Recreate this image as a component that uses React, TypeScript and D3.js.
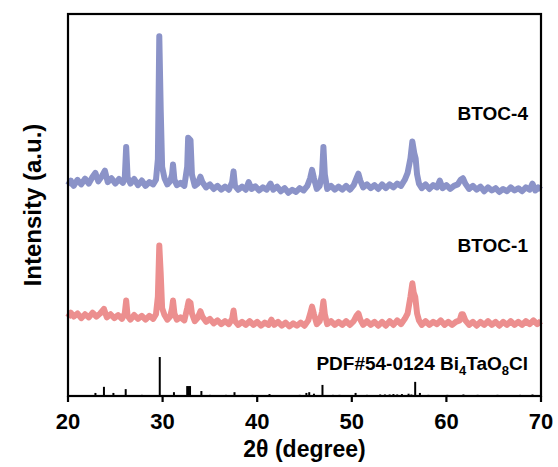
import * as d3 from "d3";

// 2θ (deg), intensity (a.u., offset stacked)
const btoc4: [number, number][] = [
  [20.0, 55.2], [20.3, 56.4], [20.6, 55.0], [21.0, 56.6], [21.4, 55.4], [21.8, 56.9], [22.2, 55.6], [22.6, 57.4],
  [22.9, 58.4], [23.2, 56.2], [23.6, 57.6], [23.9, 59.0], [24.2, 56.0], [24.6, 57.0], [25.0, 55.6], [25.4, 56.8],
  [25.8, 55.8], [26.0, 57.0], [26.15, 65.2], [26.3, 57.2], [26.6, 55.6], [27.0, 56.8], [27.4, 55.2], [27.8, 56.4],
  [28.2, 55.0], [28.6, 56.0], [29.0, 55.4], [29.3, 56.6], [29.5, 62.0], [29.65, 94.2], [29.8, 75.0], [29.95, 60.0],
  [30.2, 57.0], [30.5, 55.4], [30.8, 56.2], [31.0, 58.0], [31.1, 60.6], [31.25, 56.6], [31.5, 55.2], [31.9, 55.8],
  [32.3, 55.0], [32.6, 60.0], [32.7, 67.6], [32.95, 67.0], [33.1, 58.0], [33.4, 55.0], [33.7, 55.6], [34.0, 57.4],
  [34.2, 56.0], [34.6, 54.6], [35.0, 55.4], [35.4, 54.2], [35.8, 55.0], [36.2, 54.0], [36.6, 54.8], [37.0, 54.0],
  [37.35, 56.0], [37.5, 58.8], [37.65, 55.0], [38.0, 54.0], [38.4, 54.8], [38.8, 54.0], [39.1, 56.0], [39.4, 54.2],
  [39.8, 54.9], [40.2, 53.8], [40.6, 54.6], [41.0, 54.0], [41.4, 55.6], [41.7, 54.0], [42.1, 54.8], [42.5, 53.6],
  [42.9, 54.4], [43.3, 53.2], [43.7, 54.0], [44.1, 53.4], [44.5, 54.4], [44.9, 53.8], [45.3, 55.0], [45.6, 57.0],
  [45.8, 59.2], [46.0, 57.0], [46.3, 54.2], [46.6, 55.0], [46.85, 58.0], [47.0, 65.2], [47.15, 58.0], [47.4, 54.2],
  [47.8, 55.0], [48.2, 54.0], [48.6, 54.8], [49.0, 54.0], [49.4, 55.0], [49.8, 54.0], [50.2, 55.2], [50.5, 57.0],
  [50.7, 58.2], [50.9, 56.4], [51.2, 54.6], [51.6, 55.4], [52.0, 54.4], [52.4, 55.2], [52.8, 54.2], [53.2, 55.4],
  [53.6, 54.4], [54.0, 55.4], [54.4, 54.6], [54.8, 55.6], [55.2, 55.0], [55.6, 56.6], [55.9, 58.4], [56.2, 62.2],
  [56.4, 66.6], [56.6, 63.6], [56.75, 62.2], [56.9, 58.0], [57.1, 55.6], [57.4, 54.4], [57.8, 55.4], [58.2, 54.2],
  [58.6, 55.2], [59.0, 54.6], [59.3, 56.4], [59.6, 54.4], [60.0, 55.2], [60.4, 54.2], [60.8, 55.0], [61.2, 55.4],
  [61.5, 56.6], [61.75, 57.0], [62.0, 55.6], [62.4, 54.2], [62.8, 55.0], [63.2, 54.0], [63.6, 54.8], [64.0, 53.6],
  [64.4, 54.6], [64.8, 53.8], [65.2, 54.4], [65.6, 53.4], [66.0, 54.2], [66.4, 53.6], [66.8, 54.6], [67.2, 53.8],
  [67.6, 54.4], [68.0, 53.6], [68.4, 54.6], [68.8, 54.0], [69.1, 55.6], [69.4, 53.8], [69.7, 54.6], [70.0, 54.0],
];

const btoc1: [number, number][] = [
  [20.0, 20.6], [20.3, 21.8], [20.6, 20.8], [21.0, 21.6], [21.4, 20.4], [21.8, 21.4], [22.2, 20.6], [22.6, 21.8],
  [23.0, 20.8], [23.4, 21.6], [23.8, 22.8], [24.1, 20.6], [24.5, 21.4], [24.9, 20.4], [25.3, 21.2], [25.7, 20.2],
  [26.0, 21.6], [26.15, 25.0], [26.3, 21.0], [26.6, 20.0], [27.0, 21.2], [27.4, 20.2], [27.8, 21.0], [28.2, 20.0],
  [28.6, 21.0], [29.0, 20.2], [29.3, 21.4], [29.5, 26.0], [29.65, 39.4], [29.8, 32.0], [29.95, 23.0], [30.2, 21.2],
  [30.5, 20.0], [30.8, 20.8], [31.0, 23.0], [31.1, 25.0], [31.25, 21.6], [31.5, 20.0], [31.9, 20.6], [32.3, 19.8],
  [32.6, 23.0], [32.75, 24.8], [32.95, 24.4], [33.1, 21.6], [33.4, 19.6], [33.7, 20.4], [34.0, 22.2], [34.2, 20.8],
  [34.6, 19.4], [35.0, 20.2], [35.4, 19.0], [35.8, 19.8], [36.2, 18.8], [36.6, 19.6], [37.0, 18.8], [37.35, 20.2],
  [37.5, 22.4], [37.65, 19.6], [38.0, 18.6], [38.4, 19.4], [38.8, 18.6], [39.2, 19.6], [39.6, 18.6], [40.0, 19.4],
  [40.4, 18.4], [40.8, 19.2], [41.2, 18.6], [41.5, 20.0], [41.8, 18.6], [42.2, 19.4], [42.6, 18.4], [43.0, 19.2],
  [43.4, 18.2], [43.8, 19.0], [44.2, 18.4], [44.6, 19.2], [45.0, 18.4], [45.4, 19.8], [45.65, 22.0], [45.8, 23.4],
  [46.0, 21.4], [46.3, 18.8], [46.6, 19.6], [46.85, 22.0], [47.0, 24.8], [47.15, 21.4], [47.4, 18.8], [47.8, 19.6],
  [48.2, 18.6], [48.6, 19.4], [49.0, 18.6], [49.4, 19.6], [49.8, 18.6], [50.2, 19.6], [50.5, 21.0], [50.7, 21.6],
  [50.9, 20.0], [51.2, 18.6], [51.6, 19.6], [52.0, 18.6], [52.4, 19.4], [52.8, 18.4], [53.2, 19.4], [53.6, 18.4],
  [54.0, 19.6], [54.4, 18.6], [54.8, 19.8], [55.2, 18.8], [55.6, 20.2], [55.9, 21.6], [56.2, 26.0], [56.4, 29.5],
  [56.55, 27.0], [56.7, 26.0], [56.9, 21.6], [57.1, 19.8], [57.4, 18.6], [57.8, 19.6], [58.2, 18.6], [58.6, 19.4],
  [59.0, 18.8], [59.4, 19.8], [59.8, 18.6], [60.2, 19.4], [60.6, 18.6], [61.0, 19.4], [61.4, 19.8], [61.6, 21.4],
  [61.75, 21.4], [62.0, 19.8], [62.4, 18.6], [62.8, 19.4], [63.2, 18.4], [63.6, 19.4], [64.0, 18.6], [64.4, 19.6],
  [64.8, 18.6], [65.2, 19.4], [65.6, 18.4], [66.0, 19.4], [66.4, 18.6], [66.8, 19.6], [67.2, 18.6], [67.6, 19.4],
  [68.0, 18.6], [68.4, 19.6], [68.8, 18.8], [69.2, 19.8], [69.6, 18.8], [70.0, 19.6],
];

// standard card PDF#54-0124 sticks: [2θ, relative height]
const pdfPeaks: [number, number][] = [
  [22.9, 0.8], [23.8, 2.4], [24.8, 0.8], [26.1, 1.8], [27.8, 0.3], [29.7, 10.2], [31.2, 1.0], [32.6, 2.6],
  [32.75, 2.6], [32.9, 2.6], [34.1, 1.3], [35.0, 0.3], [36.7, 0.3], [37.6, 1.0], [39.5, 0.3], [41.3, 0.5],
  [44.5, 0.3], [45.2, 0.8], [45.5, 1.0], [46.0, 0.6], [46.9, 2.9], [48.0, 0.3], [48.7, 0.3], [50.4, 0.8],
  [51.6, 0.3], [53.0, 0.4], [53.5, 0.4], [54.0, 0.4], [54.4, 0.5], [54.8, 0.4], [55.3, 0.5], [56.0, 0.6],
  [56.3, 0.4], [56.7, 3.7], [57.2, 0.8], [58.1, 0.3], [60.1, 0.3], [61.8, 0.4], [63.3, 0.3], [65.4, 0.3],
  [67.8, 0.3], [69.1, 0.4],
];

const xTicks = [20, 30, 40, 50, 60, 70];

const font = "Arial, 'Liberation Sans', sans-serif";

export default function App() {
  const width = 558;
  const height = 467;
  const m = { left: 68, right: 17, top: 14, bottom: 71 };

  const x = d3.scaleLinear().domain([20, 70]).range([m.left, width - m.right]);
  const y = d3.scaleLinear().domain([0, 100]).range([height - m.bottom, m.top]);

  const line = d3
    .line<[number, number]>()
    .x((d) => x(d[0]))
    .y((d) => y(d[1]));

  const plotBottom = height - m.bottom;

  return (
    <svg
      width={width}
      height={height}
      style={{ position: "absolute", left: 0, top: 0, background: "#fff" }}
      fontFamily={font}
      fontWeight="bold"
    >
      <path d={line(btoc4) ?? ""} fill="none" stroke="#8b93c8" strokeWidth={6} strokeLinejoin="round" />
      <path d={line(btoc1) ?? ""} fill="none" stroke="#ec8f8f" strokeWidth={6} strokeLinejoin="round" />

      {pdfPeaks.map((d, i) => (
        <line key={i} x1={x(d[0])} x2={x(d[0])} y1={y(0)} y2={y(d[1])} stroke="#000" strokeWidth={2} />
      ))}

      <rect
        x={m.left}
        y={m.top}
        width={width - m.left - m.right}
        height={plotBottom - m.top}
        fill="none"
        stroke="#000"
        strokeWidth={2.2}
      />

      {xTicks.map((t) => (
        <g key={t}>
          <line x1={x(t)} x2={x(t)} y1={plotBottom} y2={plotBottom + 6} stroke="#000" strokeWidth={2.2} />
          <text x={x(t)} y={plotBottom + 33} textAnchor="middle" fontSize={22}>
            {t}
          </text>
        </g>
      ))}

      <text x={(m.left + width - m.right) / 2} y={height - 10} textAnchor="middle" fontSize={23}>
        2θ (degree)
      </text>
      <text
        transform={`translate(41, ${(m.top + plotBottom) / 2}) rotate(-90)`}
        textAnchor="middle"
        fontSize={24}
      >
        Intensity (a.u.)
      </text>

      <text x={528} y={120} textAnchor="end" fontSize={19}>
        BTOC-4
      </text>
      <text x={528} y={252} textAnchor="end" fontSize={19}>
        BTOC-1
      </text>
      <text x={528} y={370} textAnchor="end" fontSize={19}>
        PDF#54-0124 Bi<tspan fontSize={13} dy={5}>4</tspan>
        <tspan dy={-5}>TaO</tspan>
        <tspan fontSize={13} dy={5}>8</tspan>
        <tspan dy={-5}>Cl</tspan>
      </text>
    </svg>
  );
}
